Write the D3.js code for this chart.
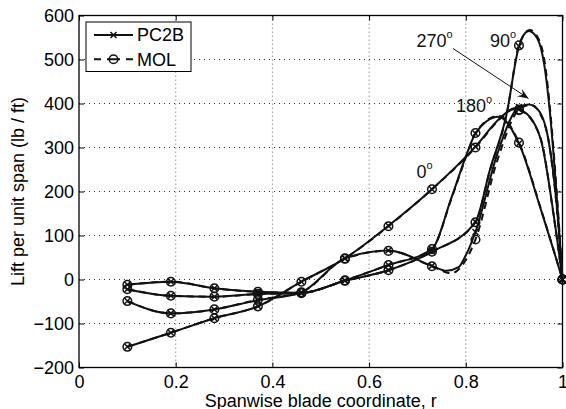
<!DOCTYPE html>
<html><head><meta charset="utf-8">
<script src="https://cdn.jsdelivr.net/npm/d3@7/dist/d3.min.js"></script>
<style>body{margin:0;background:#fff}svg{display:block}text{font-family:"Liberation Sans",Arial,Helvetica,sans-serif}</style>
</head><body><svg id="c" width="566" height="409"></svg>
<script>
// ---- data ----
const xTicks = [0, 0.2, 0.4, 0.6, 0.8, 1];
const yTicks = [-200, -100, 0, 100, 200, 300, 400, 500, 600];
const markerR = [0.1, 0.19, 0.28, 0.37, 0.46, 0.55, 0.64, 0.73, 0.82, 0.91, 1.0];
const angles = ["0", "90", "180", "270"];
// PC2B values at marker stations
const pc2b0   = [-153, -121, -88, -61, -5, 48, 122, 205, 302, 387, 0];
const pc2b90  = [-22, -37, -39, -33, -31, -3, 21, 63, 131, 530, 0];
const pc2b180 = [-12, -5, -20, -28, -30, -2, 33, 69, 332, 309, 0];
const pc2b270 = [-49, -77, -68, -47, -29, 48, 66, 31, 108, 392, 0];
// MOL values at marker stations
const mol0   = [-153, -121, -88, -61, -5, 48, 121, 205, 300, 385, 0];
const mol90  = [-22, -37, -39, -33, -31, -3, 21, 63, 130, 532, 0];
const mol180 = [-12, -5, -20, -28, -30, -2, 33, 69, 333, 311, 0];
const mol270 = [-49, -77, -68, -46, -29, 47, 65, 30, 91, 386, 0];
// additional points read along the curves between stations [r, value]
const pc2b0Extra   = [[0.87, 366], [0.9, 389], [0.94, 358], [0.957, 310], [0.98, 160]];
const pc2b90Extra  = [[0.85, 250], [0.884, 374], [0.93, 565], [0.948, 548], [0.962, 490], [0.974, 380], [0.986, 220]];
const pc2b180Extra = [[0.77, 185], [0.805, 294], [0.868, 370], [0.955, 160]];
const pc2b270Extra = [[0.76, 20], [0.785, 28], [0.8, 55], [0.865, 285], [0.93, 398], [0.95, 385], [0.971, 317], [0.988, 170]];
const mol0Extra   = [[0.87, 364], [0.9, 387], [0.94, 356], [0.958, 308], [0.98, 158]];
const mol90Extra  = [[0.85, 248], [0.884, 372], [0.932, 567], [0.95, 548], [0.964, 488], [0.975, 378], [0.987, 215]];
const mol180Extra = [[0.77, 183], [0.805, 292], [0.868, 372], [0.956, 158]];
const mol270Extra = [[0.77, 14], [0.795, 36], [0.865, 270], [0.935, 397], [0.952, 380], [0.972, 310], [0.988, 165]];
const legendLabels = ["PC2B", "MOL"];

// ---- build ----
const svg = d3.select("#c");
const L = 79, R = 562.5, T = 15.5, B = 367.5;
const x = d3.scaleLinear([0, 1], [L, R]);
const y = d3.scaleLinear([-200, 600], [B, T]);
const FS = 18;

function merge(vals, extra) {
  const pts = markerR.map((r, i) => [r, vals[i]]).concat(extra);
  return pts.sort((a, b) => a[0] - b[0]);
}
const series = [
  {name: "PC2B", curves: [merge(pc2b0, pc2b0Extra), merge(pc2b90, pc2b90Extra), merge(pc2b180, pc2b180Extra), merge(pc2b270, pc2b270Extra)], marks: [pc2b0, pc2b90, pc2b180, pc2b270], dash: null},
  {name: "MOL", curves: [merge(mol0, mol0Extra), merge(mol90, mol90Extra), merge(mol180, mol180Extra), merge(mol270, mol270Extra)], marks: [mol0, mol90, mol180, mol270], dash: "7,5"}
];

// grid
svg.append("g").selectAll("line").data(xTicks.slice(1, -1)).join("line")
  .attr("x1", d => x(d)).attr("x2", d => x(d)).attr("y1", T).attr("y2", B)
  .attr("stroke", "#999").attr("stroke-width", 1).attr("stroke-dasharray", "1.5,2.5");
svg.append("g").selectAll("line").data(yTicks.slice(1, -1)).join("line")
  .attr("y1", d => y(d)).attr("y2", d => y(d)).attr("x1", L).attr("x2", R)
  .attr("stroke", "#333").attr("stroke-width", 1).attr("stroke-dasharray", "1,4");

// axes
const fmt = d3.format("");
const gx = svg.append("g").attr("transform", `translate(0,${B})`)
  .call(d3.axisBottom(x).tickValues(xTicks).tickSize(-5).tickPadding(8).tickFormat(fmt));
const gy = svg.append("g").attr("transform", `translate(${L},0)`)
  .call(d3.axisLeft(y).tickValues(yTicks).tickSize(-5).tickPadding(5));
const gt = svg.append("g").attr("transform", `translate(0,${T})`)
  .call(d3.axisTop(x).tickValues(xTicks).tickSize(-5).tickFormat(""));
const gr = svg.append("g").attr("transform", `translate(${R},0)`)
  .call(d3.axisRight(y).tickValues(yTicks).tickSize(-5).tickFormat(""));
[gx, gy, gt, gr].forEach(g => {
  g.select(".domain").remove();
  g.selectAll("line").attr("stroke", "#000");
  g.selectAll("text").attr("font-size", FS).attr("fill", "#000").style("font-family", '"Liberation Sans",Arial,sans-serif');
});
svg.append("rect").attr("x", L).attr("y", T).attr("width", R - L).attr("height", B - T)
  .attr("fill", "none").attr("stroke", "#000").attr("stroke-width", 1.3);

// curves
const line = d3.line().x(d => x(d[0])).y(d => y(d[1])).curve(d3.curveMonotoneX);
series.forEach(s => {
  s.curves.forEach(c => {
    svg.append("path").attr("d", line(c)).attr("fill", "none").attr("stroke", "#111")
      .attr("stroke-width", 2).attr("stroke-dasharray", s.dash);
  });
});
// markers
function drawX(g, cx, cy) {
  g.append("path").attr("d", `M${cx-3},${cy-3}L${cx+3},${cy+3}M${cx-3},${cy+3}L${cx+3},${cy-3}`)
    .attr("stroke", "#111").attr("stroke-width", 1.5).attr("fill", "none");
}
function drawO(g, cx, cy) {
  g.append("circle").attr("cx", cx).attr("cy", cy).attr("r", 4.3)
    .attr("stroke", "#111").attr("stroke-width", 1.5).attr("fill", "none");
}
const mg = svg.append("g");
series[0].marks.forEach(vals => vals.forEach((v, i) => drawX(mg, x(markerR[i]), y(v))));
series[1].marks.forEach(vals => vals.forEach((v, i) => drawO(mg, x(markerR[i]), y(v))));

// annotations
function ang(label, tx, ty) {
  const t = svg.append("text").attr("x", tx).attr("y", ty).attr("font-size", FS).attr("fill", "#111");
  t.append("tspan").text(label);
  t.append("tspan").attr("font-size", 11).attr("dy", -9).text("o");
}
ang(angles[3], 416.5, 47);
ang(angles[1], 490, 47);
ang(angles[2], 456, 112);
ang(angles[0], 416.5, 178);
// arrow
const ax1 = 453, ay1 = 48.5, ax2 = 528.5, ay2 = 98.5;
svg.append("line").attr("x1", ax1).attr("y1", ay1).attr("x2", ax2).attr("y2", ay2)
  .attr("stroke", "#111").attr("stroke-width", 1);
{
  const dx = ax2 - ax1, dy = ay2 - ay1, len = Math.hypot(dx, dy), ux = dx / len, uy = dy / len;
  const hl = 11, hw = 4.5, bx = ax2 - ux * hl, by = ay2 - uy * hl;
  svg.append("path").attr("d", `M${ax2},${ay2}L${bx - uy * hw},${by + ux * hw}L${ax2 - ux * hl * 0.6},${ay2 - uy * hl * 0.6}L${bx + uy * hw},${by - ux * hw}Z`)
    .attr("fill", "#111");
}

// labels
svg.append("text").attr("transform", `translate(24,${(T + B) / 2}) rotate(-90)`)
  .attr("text-anchor", "middle").attr("font-size", FS).text("Lift per unit span (lb / ft)");
svg.append("text").attr("x", (L + R) / 2).attr("y", 407).attr("text-anchor", "middle")
  .attr("font-size", FS).text("Spanwise blade coordinate, r");

// legend
const lg = svg.append("g");
lg.append("rect").attr("x", 86).attr("y", 22).attr("width", 105).attr("height", 49.5)
  .attr("fill", "#fff").attr("stroke", "#000").attr("stroke-width", 1);
const rows = [35, 59.3];
lg.append("line").attr("x1", 94).attr("x2", 133).attr("y1", rows[0]).attr("y2", rows[0])
  .attr("stroke", "#111").attr("stroke-width", 2);
drawX(lg, 113.5, rows[0]);
lg.append("line").attr("x1", 94).attr("x2", 133).attr("y1", rows[1]).attr("y2", rows[1])
  .attr("stroke", "#111").attr("stroke-width", 2).attr("stroke-dasharray", "7,6,13,6,7");
drawO(lg, 113.5, rows[1]);
legendLabels.forEach((t, i) => lg.append("text").attr("x", 137).attr("y", rows[i]).attr("dy", "0.35em")
  .attr("font-size", FS).text(t));
</script></body></html>
